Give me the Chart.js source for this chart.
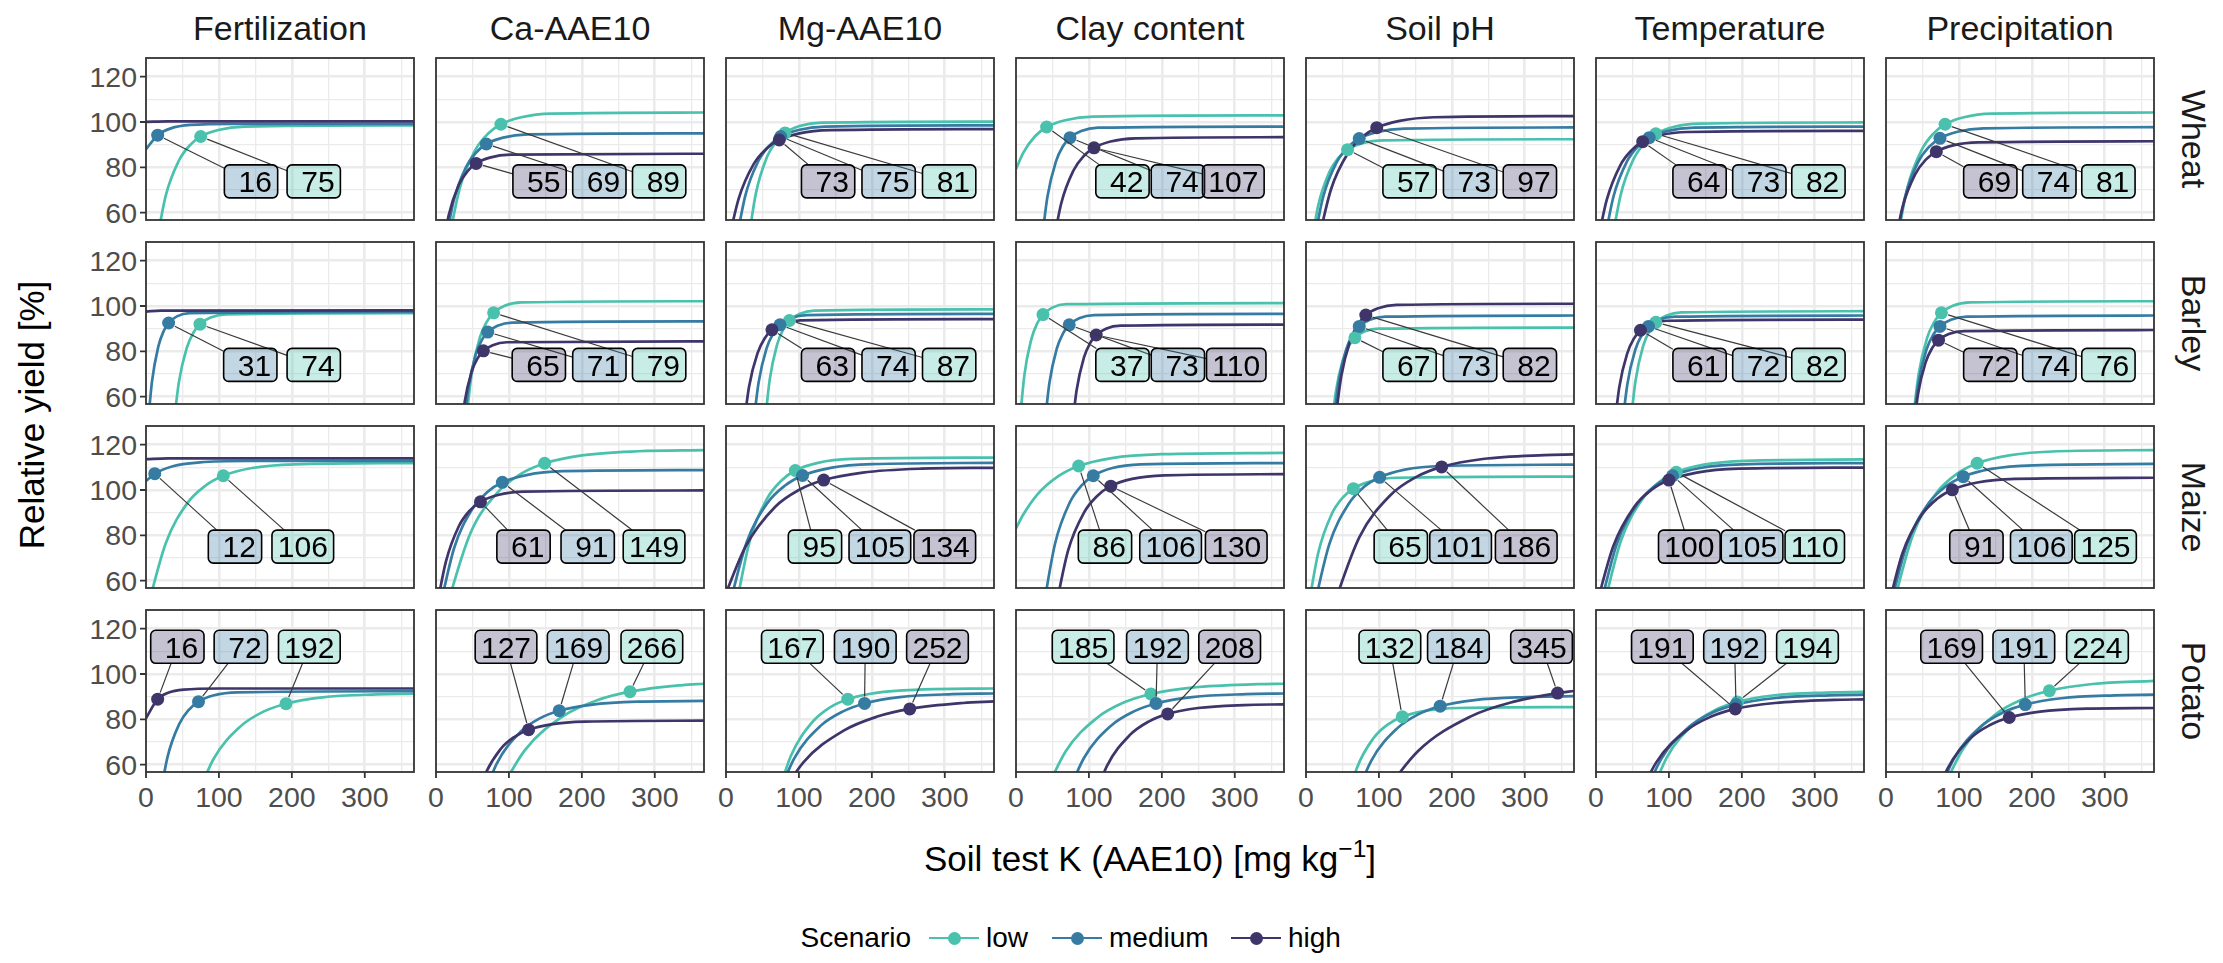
<!DOCTYPE html>
<html>
<head>
<meta charset="utf-8">
<title>Critical soil test K by scenario</title>
<script src="https://cdn.jsdelivr.net/npm/chart.js@4.4.1/dist/chart.umd.min.js"></script>
<style>
  html, body { margin: 0; padding: 0; background: #ffffff; }
  #fig { position: relative; width: 2223px; height: 963px; overflow: hidden;
         font-family: "Liberation Sans", Arial, Helvetica, sans-serif; }
  #fig canvas { position: absolute; }
  .txt { position: absolute; white-space: nowrap; line-height: 1; }
</style>
</head>
<body>
<div id="fig"></div>
<script>
// ---------------------------------------------------------------------------
// Categories and tick values
// ---------------------------------------------------------------------------
const factors = ["Fertilization", "Ca-AAE10", "Mg-AAE10", "Clay content", "Soil pH", "Temperature", "Precipitation"];
const crops = ["Wheat", "Barley", "Maize", "Potato"];
const scenarios = ["low", "medium", "high"];
const xTickLabels = [0, 100, 200, 300];
const yTickLabels = [60, 80, 100, 120];
const xGridValues = [50, 100, 150, 200, 250, 300, 350];
const yGridValues = [60, 70, 80, 90, 100, 110, 120];

// ---------------------------------------------------------------------------
// Response curves: [soil test K, relative yield] per factor (in the order above)
// ---------------------------------------------------------------------------
const wheatLow = [
  [[9,36.5],[27,67.4],[45,82.9],[60,89.7],[75,93.6],[99,96.5],[135,98.0],[367.5,98.5]],
  [[12,38.7],[33,71.3],[54,87.7],[71.5,94.9],[89,99.0],[117,102.1],[159,103.7],[367.5,104.2]],
  [[26,37.2],[41,68.5],[56,84.4],[68.5,91.3],[81,95.2],[101,98.2],[131,99.7],[367.5,100.2]],
  [[0,79.3],[10.3,86.6],[26.1,93.7],[42,97.8],[67.4,100.8],[105.5,102.4],[367.5,102.9]],
  [[1.8,34.3],[16.8,63.2],[31.9,77.8],[44.5,84.2],[57,87.8],[77,90.6],[107,91.9],[367.5,92.4]],
  [[16.2,37.0],[34.2,68.3],[52.1,84.0],[67,90.9],[82,94.8],[105.9,97.8],[141.8,99.3],[367.5,99.8]],
  [[10.4,38.7],[29.6,71.3],[48.9,87.7],[65,94.9],[81,99.0],[106.7,102.1],[145.2,103.7],[367.5,104.2]]
];
const wheatMedium = [
  [[0,88.0],[16,94.2],[34,97.2],[61,98.7],[120,99.2],[367.5,99.2]],
  [[7,35.2],[24,65.0],[41,80.0],[55,86.5],[69,90.3],[92,93.1],[126,94.5],[367.5,95.0]],
  [[8.2,36.5],[26.4,67.4],[44.6,82.9],[59.8,89.7],[75,93.6],[99.3,96.5],[135.7,98.0],[367.5,98.5]],
  [[31.5,36.4],[43.1,67.0],[54.7,82.5],[64.4,89.3],[74,93.1],[89.4,96.0],[112.6,97.5],[367.5,98.0]],
  [[4.8,36.2],[23.4,66.8],[42,82.2],[57.5,88.9],[73,92.7],[97.8,95.6],[135,97.1],[367.5,97.6]],
  [[5.5,36.4],[23.9,67.0],[42.3,82.5],[57.7,89.3],[73,93.1],[97.6,96.0],[134.4,97.5],[367.5,98.0]],
  [[8,36.2],[26,66.8],[44,82.3],[59,89.0],[74,92.8],[98,95.7],[134,97.2],[367.5,97.7]]
];
const wheatHigh = [
  [[0,100.1],[30,100.3],[367.5,100.3]],
  [[3,31.9],[17.4,58.8],[31.5,72.4],[43.3,78.3],[55,81.7],[73.8,84.3],[102,85.6],[367.5,86.0]],
  [[0,42.3],[17.5,66.3],[38.3,81.6],[55.7,88.3],[73,92.1],[100.8,95.0],[142.4,96.4],[367.5,96.9]],
  [[45,34.6],[61.8,63.8],[78.8,78.6],[92.9,85.0],[107,88.6],[129.6,91.4],[163.5,92.8],[367.5,93.3]],
  [[10.6,38.1],[34.2,70.2],[57.8,86.4],[77.4,93.5],[97,97.5],[128.4,100.5],[175.5,102.1],[367.5,102.6]],
  [[0,43.4],[14.8,65.7],[33.3,80.9],[48.6,87.5],[64,91.3],[88.6,94.2],[125.5,95.6],[367.5,96.1]],
  [[5.4,33.9],[22.8,62.6],[40.1,77.0],[54.6,83.4],[69,86.9],[92.1,89.7],[126.8,91.0],[367.5,91.5]]
];

const barleyLow = [
  [[34.1,35.9],[45,66.2],[55.9,81.5],[64.9,88.2],[74,92.0],[88.5,94.9],[110.3,96.3],[367.5,96.8]],
  [[37.4,37.9],[48.8,69.8],[60.1,86.0],[69.6,93.0],[79,97.0],[94.1,100.1],[116.8,101.6],[367.5,102.1]],
  [[49.7,36.5],[59.9,67.4],[70,82.9],[78.5,89.7],[87,93.6],[100.6,96.5],[120.9,98.0],[367.5,98.5]],
  [[0,28.8],[11.4,69.3],[21,85.3],[29,92.3],[37,96.2],[49.8,99.3],[69,100.8],[367.5,101.3]],
  [[31,33.6],[40.8,61.9],[50.6,76.2],[58.8,82.4],[67,86.0],[80.1,88.7],[99.8,90.0],[367.5,90.5]],
  [[43.6,36.2],[54.1,66.8],[64.6,82.3],[73.3,89.0],[82,92.8],[96,95.7],[116.9,97.2],[367.5,97.7]],
  [[33,37.9],[44.7,69.8],[56.5,86.0],[66.2,93.0],[76,97.0],[91.6,100.1],[115.1,101.6],[367.5,102.1]]
];
const barleyMedium = [
  [[0,37.8],[8.2,66.6],[16.8,82.0],[23.9,88.7],[31,92.5],[42.4,95.4],[59.5,96.9],[367.5,97.4]],
  [[34.4,34.6],[44.4,63.7],[54.4,78.5],[62.7,84.9],[71,88.5],[84.3,91.3],[104.3,92.7],[367.5,93.2]],
  [[33.5,35.8],[44.6,66.0],[55.6,81.3],[64.8,87.9],[74,91.7],[88.7,94.6],[110.8,96.0],[367.5,96.5]],
  [[35.6,35.8],[45.8,66.0],[56,81.3],[64.5,87.9],[73,91.7],[86.6,94.6],[107,96.0],[367.5,96.5]],
  [[33.5,35.5],[44.3,65.5],[55,80.7],[64,87.3],[73,91.0],[87.4,93.9],[108.9,95.3],[367.5,95.8]],
  [[32.1,35.5],[43,65.5],[53.9,80.7],[62.9,87.3],[72,91.0],[86.5,93.9],[108.3,95.3],[367.5,95.8]],
  [[33.1,35.5],[44.2,65.5],[55.4,80.7],[64.7,87.3],[74,91.0],[88.9,93.9],[111.2,95.3],[367.5,95.8]]
];
const barleyHigh = [
  [[0,97.5],[20,98.0],[367.5,98.1]],
  [[29.7,31.3],[39.3,57.7],[49,71.1],[57,76.9],[65,80.2],[77.8,82.7],[97.1,84.0],[367.5,84.4]],
  [[19.8,34.9],[31.6,64.4],[43.4,79.3],[53.2,85.8],[63,89.5],[78.7,92.3],[102.3,93.7],[367.5,94.2]],
  [[73,34.1],[83.1,62.8],[93.2,77.3],[101.6,83.6],[110,87.2],[123.4,90.0],[143.6,91.3],[367.5,91.8]],
  [[35.8,37.5],[48.4,69.1],[61,85.0],[71.5,92.0],[82,96.0],[98.8,99.0],[124,100.5],[367.5,101.0]],
  [[21.1,34.9],[32,64.3],[42.9,79.1],[51.9,85.6],[61,89.3],[75.5,92.1],[97.3,93.5],[367.5,94.0]],
  [[33.4,33.2],[43.9,61.1],[54.5,75.3],[63.2,81.4],[72,84.9],[86,87.6],[107.1,88.9],[367.5,89.4]]
];

const maizeLow = [
  [[0,45.4],[27.1,76.5],[56.7,94.2],[81.4,101.9],[106,106.3],[145.4,109.7],[204.6,111.3],[367.5,111.9]],
  [[0,31.8],[46.6,80.5],[85,99.1],[117,107.2],[149,111.8],[200.2,115.3],[277,117.1],[367.5,117.6]],
  [[9.9,42.4],[33.1,78.2],[56.3,96.2],[75.7,104.1],[95,108.6],[126,112.0],[172.4,113.7],[367.5,114.3]],
  [[0,83.1],[10,89.2],[29.2,98.0],[57.6,106.0],[86,110.6],[131.4,114.1],[199.6,115.8],[367.5,116.4]],
  [[0,42.0],[16.9,72.4],[35,89.2],[50,96.5],[65,100.6],[89,103.8],[125.1,105.4],[367.5,105.9]],
  [[5.8,42.1],[34.2,77.6],[62.7,95.6],[86.3,103.4],[110,107.8],[147.9,111.2],[204.7,112.9],[367.5,113.5]],
  [[0,36.6],[37.2,80.5],[70.2,99.1],[97.6,107.2],[125,111.8],[168.9,115.3],[234.7,117.1],[367.5,117.6]]
];
const maizeMedium = [
  [[0,104.0],[12,107.2],[36.8,110.5],[74,112.2],[140,112.8],[367.5,112.8]],
  [[0,40.0],[24.9,74.4],[49.7,91.6],[70.4,99.1],[91,103.4],[124,106.6],[173.6,108.3],[367.5,108.8]],
  [[0,42.9],[28,76.6],[56.9,94.3],[81,102.0],[105,106.4],[143.5,109.8],[201.2,111.4],[367.5,112.0]],
  [[34.1,41.5],[53.7,76.5],[73.3,94.2],[89.7,101.9],[106,106.3],[132.2,109.7],[171.4,111.3],[367.5,111.9]],
  [[6.1,41.3],[32,76.1],[57.9,93.6],[79.4,101.3],[101,105.6],[135.5,109.0],[187.3,110.6],[367.5,111.2]],
  [[0,40.9],[28.8,76.5],[57.4,94.2],[81.2,101.9],[105,106.3],[143.1,109.7],[200.2,111.3],[367.5,111.9]],
  [[0,41.3],[29,76.3],[57.9,93.9],[81.9,101.6],[106,105.9],[144.5,109.3],[202.3,110.9],[367.5,111.5]]
];
const maizeHigh = [
  [[0,113.6],[30,114.0],[367.5,114.0]],
  [[0,46.7],[13.5,68.3],[31.3,84.0],[46.2,90.9],[61,94.8],[84.8,97.8],[120.4,99.3],[367.5,99.8]],
  [[0,54.6],[27.1,75.2],[67.2,92.5],[100.6,100.1],[134,104.4],[187.4,107.7],[267.6,109.4],[367.5,109.8]],
  [[49.4,39.7],[71.4,73.2],[93.4,90.1],[111.7,97.5],[130,101.7],[159.3,104.9],[203.3,106.5],[367.5,107.0]],
  [[31.2,43.0],[73.4,79.3],[115.7,97.7],[150.8,105.7],[186,110.2],[242.3,113.7],[326.7,115.4],[367.5,115.7]],
  [[0,48.5],[23.7,75.2],[52.3,92.5],[76.2,100.1],[100,104.4],[138.2,107.7],[195.4,109.4],[367.5,109.9]],
  [[0,44.3],[22.6,72.1],[48.3,88.7],[69.6,96.0],[91,100.1],[125.2,103.3],[176.5,104.9],[367.5,105.4]]
];

const potatoLow = [
  [[55.6,33.9],[92.8,62.6],[130,77.0],[161,83.4],[192,86.9],[241.6,89.7],[316,91.0],[367.5,91.3]],
  [[67.6,36.0],[121.7,66.3],[175.8,81.7],[220.9,88.4],[266,92.2],[338.2,95.1],[367.5,95.7]],
  [[60,34.7],[89.2,64.0],[118.4,78.8],[142.7,85.3],[167,88.9],[205.9,91.7],[264.3,93.1],[367.5,93.6]],
  [[24,35.6],[67.8,65.7],[111.8,80.8],[148.4,87.5],[185,91.2],[243.6,94.1],[331.5,95.5],[367.5,95.7]],
  [[46.3,31.7],[69.7,58.4],[93.1,71.9],[112.5,77.8],[132,81.1],[163.2,83.7],[209.9,85.0],[367.5,85.4]],
  [[60.6,34.2],[97,63.1],[133.4,77.7],[163.7,84.1],[194,87.7],[242.5,90.5],[315.3,91.8],[367.5,92.1]],
  [[60.6,36.2],[105.2,66.7],[149.8,82.1],[186.9,88.8],[224,92.6],[283.4,95.6],[367.5,97.0]]
];
const potatoMedium = [
  [[13.4,34.3],[29.4,63.2],[45.4,77.8],[58.7,84.2],[72,87.8],[93.3,90.6],[125.3,91.9],[367.5,92.4]],
  [[51,32.7],[83.1,60.3],[115.3,74.3],[142.2,80.4],[169,83.8],[212,86.4],[276.4,87.8],[367.5,88.1]],
  [[57.1,34.0],[93.4,62.7],[129.6,77.1],[159.8,83.4],[190,87.0],[238.3,89.8],[310.8,91.1],[367.5,91.4]],
  [[55.6,34.0],[92.8,62.7],[130,77.1],[161,83.4],[192,87.0],[241.6,89.8],[316,91.1],[367.5,91.4]],
  [[54.2,33.5],[89.6,61.8],[125,76.0],[154.5,82.3],[184,85.8],[231.2,88.5],[302,89.8],[367.5,90.2]],
  [[50.5,33.8],[89.1,62.3],[127.7,76.7],[159.9,83.0],[192,86.5],[243.4,89.3],[320.6,90.6],[367.5,90.9]],
  [[55.7,33.8],[92.6,62.3],[129.5,76.7],[160.3,83.0],[191,86.5],[240.2,89.3],[314,90.6],[367.5,90.9]]
];
const potatoHigh = [
  [[0,80.5],[16,88.9],[30.3,91.7],[51.8,93.1],[100,93.6],[367.5,93.6]],
  [[42.6,29.5],[65.6,54.3],[88.7,66.9],[107.8,72.3],[127,75.4],[157.7,77.8],[203.7,79.0],[367.5,79.4]],
  [[51,33.0],[105.8,60.9],[160.7,74.9],[206.3,81.1],[252,84.6],[325.1,87.2],[367.5,87.9]],
  [[93.3,32.2],[124.6,59.3],[155.9,73.0],[181.9,79.0],[208,82.4],[249.7,85.0],[312.3,86.3],[367.5,86.6]],
  [[81.6,35.8],[153.4,65.9],[225.3,81.2],[285.1,87.8],[345,91.6],[367.5,92.5]],
  [[41.7,33.0],[82.4,60.9],[123.2,74.9],[157.1,81.1],[191,84.6],[245.3,87.2],[326.7,88.6],[367.5,88.8]],
  [[52.6,31.6],[84.4,58.2],[116.1,71.7],[142.6,77.5],[169,80.8],[211.3,83.4],[274.8,84.7],[367.5,85.0]]
];

// Critical soil test K per factor: [low, medium, high] (null = no critical value)
const wheatCrit  = [[75,16,null],[89,69,55],[81,75,73],[42,74,107],[57,73,97],[82,73,64],[81,74,69]];
const barleyCrit = [[74,31,null],[79,71,65],[87,74,63],[37,73,110],[67,73,82],[82,72,61],[76,74,72]];
const maizeCrit  = [[106,12,null],[149,91,61],[95,105,134],[86,106,130],[65,101,186],[110,105,100],[125,106,91]];
const potatoCrit = [[192,72,16],[266,169,127],[167,190,252],[185,192,208],[132,184,345],[194,192,191],[224,191,169]];

// ---------------------------------------------------------------------------
// Label placement (x centres in data units, sorted by value) and row heights
// ---------------------------------------------------------------------------
const wheatLabelX  = [[144,230],[142,224,306],[140,223,306],[146,222,298],[142,225,307],[142,224,305],[143,224,305]];
const barleyLabelX = [[143,230],[141,224,306],[140,223,306],[146,222,302],[142,225,307],[142,224,305],[143,224,305]];
const maizeLabelX  = [[122,215],[120,208,299],[122,211,300],[122,212,302],[130,212,302],[128,214,300],[124,213,301]];
const potatoLabelX = [[43,130,224],[96,195,296],[91,191,290],[92,194,293],[115,209,323],[91,190,290],[90,189,290]];
const labelRowY = [73.8, 74, 75, 112];

// ---------------------------------------------------------------------------
// Styling and layout
// ---------------------------------------------------------------------------
const COLORS = { low: "#49C1AD", medium: "#357BA2", high: "#3E356B" };
const FONT = '"Liberation Sans", Arial, Helvetica, sans-serif';
const X_RANGE = [0, 367.5];
const Y_RANGE = [56.75, 128.25];
const PANEL_W = 268, PANEL_H = 162, PAD = 8;
const colLeft = c => 146 + 290 * c;
const rowTop = r => 58 + 184 * r;

const curveSets = [
  [wheatLow, wheatMedium, wheatHigh],
  [barleyLow, barleyMedium, barleyHigh],
  [maizeLow, maizeMedium, maizeHigh],
  [potatoLow, potatoMedium, potatoHigh]
];
const critSets = [wheatCrit, barleyCrit, maizeCrit, potatoCrit];
const labelXSets = [wheatLabelX, barleyLabelX, maizeLabelX, potatoLabelX];

function rgba(hex, a) {
  const n = parseInt(hex.slice(1), 16);
  return `rgba(${n >> 16},${(n >> 8) & 255},${n & 255},${a})`;
}

const fig = document.getElementById("fig");
function addText(str, x, y, o) {
  const d = document.createElement("div");
  d.className = "txt";
  d.innerHTML = str;
  d.style.left = x + "px";
  d.style.top = y + "px";
  d.style.fontSize = (o.size || 28) + "px";
  d.style.color = o.color || "#000";
  const ax = o.anchor === "right" ? "-100%" : o.anchor === "left" ? "0" : "-50%";
  d.style.transform = `translate(${ax},-50%)` + (o.rotate ? ` rotate(${o.rotate}deg)` : "");
  if (o.rotate) d.style.transformOrigin = (o.anchor === "left" ? "0" : "50%") + " 50%";
  fig.appendChild(d);
  return d;
}

// Repelled value labels, segments, panel frame and outer tick marks
const panelDecor = {
  id: "panelDecor",
  afterDatasetsDraw(chart, args, opts) {
    const { ctx } = chart;
    const xs = chart.scales.x, ys = chart.scales.y;
    ctx.save();
    ctx.font = `${opts.fontSize}px ${FONT}`;
    const boxes = opts.items.map(it => {
      const text = String(it.value).padStart(3, " ");
      const w = ctx.measureText(text).width + 2 * opts.padX;
      return {
        text, w, h: opts.boxH, fill: rgba(it.color, 0.3),
        cx: xs.getPixelForValue(it.lx), cy: ys.getPixelForValue(opts.ly),
        px: xs.getPixelForValue(it.value), py: ys.getPixelForValue(it.pointY)
      };
    });
    ctx.strokeStyle = "#3a3a3a";
    ctx.lineWidth = 1.2;
    boxes.forEach(b => {
      const dx = b.cx - b.px, dy = b.cy - b.py;
      const tx = dx !== 0 ? 1 - (b.w / 2) / Math.abs(dx) : -Infinity;
      const ty = dy !== 0 ? 1 - (b.h / 2) / Math.abs(dy) : -Infinity;
      const t = Math.max(tx, ty);
      if (t <= 0) return;
      const len = Math.hypot(dx, dy);
      const t0 = Math.min(opts.pointGap / len, t);
      ctx.beginPath();
      ctx.moveTo(b.px + dx * t0, b.py + dy * t0);
      ctx.lineTo(b.px + dx * t, b.py + dy * t);
      ctx.stroke();
    });
    boxes.forEach(b => {
      const x0 = b.cx - b.w / 2, y0 = b.cy - b.h / 2;
      ctx.beginPath();
      if (ctx.roundRect) ctx.roundRect(x0, y0, b.w, b.h, opts.radius);
      else ctx.rect(x0, y0, b.w, b.h);
      ctx.fillStyle = b.fill;
      ctx.fill();
      ctx.lineWidth = opts.borderWidth;
      ctx.strokeStyle = "#000";
      ctx.stroke();
      ctx.fillStyle = "#000";
      ctx.textAlign = "center";
      ctx.textBaseline = "alphabetic";
      ctx.fillText(b.text, b.cx, b.cy + opts.fontSize * 0.716 / 2);
    });
    ctx.restore();
  },
  afterDraw(chart, args, opts) {
    const { ctx, chartArea: a } = chart;
    ctx.save();
    ctx.strokeStyle = "#333333";
    ctx.lineWidth = 1.8;
    ctx.strokeRect(a.left, a.top, a.right - a.left, a.bottom - a.top);
    ctx.beginPath();
    if (opts.yTicks) {
      yTickLabels.forEach(v => {
        const p = chart.scales.y.getPixelForValue(v);
        ctx.moveTo(a.left - 6, p); ctx.lineTo(a.left, p);
      });
    }
    if (opts.xTicks) {
      xTickLabels.forEach(v => {
        const p = chart.scales.x.getPixelForValue(v);
        ctx.moveTo(p, a.bottom); ctx.lineTo(p, a.bottom + 6);
      });
    }
    ctx.stroke();
    ctx.restore();
  }
};

function gridScale(range, values, majorStep) {
  return {
    type: "linear", min: range[0], max: range[1], bounds: "data",
    afterBuildTicks: s => { s.ticks = values.map(value => ({ value })); },
    ticks: { display: false },
    border: { display: false },
    grid: {
      drawTicks: false,
      color: "#EBEBEB",
      lineWidth: c => (c.tick && c.tick.value % majorStep === 0 ? 2.6 : 1.3)
    }
  };
}

crops.forEach((crop, r) => {
  factors.forEach((factor, c) => {
    const datasets = [];
    scenarios.forEach((s, k) => {
      datasets.push({
        type: "line", label: s,
        data: curveSets[r][k][c].map(([x, y]) => ({ x, y })),
        borderColor: COLORS[s], borderWidth: 2.7, pointRadius: 0,
        cubicInterpolationMode: "monotone", fill: false, clip: 0, order: 10 + (2 - k)
      });
    });
    const items = [];
    scenarios.forEach((s, k) => {
      const xc = critSets[r][c][k];
      if (xc === null) return;
      const yc = curveSets[r][k][c].find(p => p[0] === xc)[1];
      datasets.push({
        type: "line", label: s + " critical", showLine: false,
        data: [{ x: xc, y: yc }],
        pointRadius: 6.5, pointBackgroundColor: COLORS[s], pointBorderWidth: 0,
        clip: 0, order: 2 - k
      });
      items.push({ value: xc, pointY: yc, color: COLORS[s] });
    });
    items.sort((a, b) => a.value - b.value);
    items.forEach((it, i) => { it.lx = labelXSets[r][c][i]; });

    const canvas = document.createElement("canvas");
    canvas.width = PANEL_W + 2 * PAD;
    canvas.height = PANEL_H + 2 * PAD;
    canvas.style.width = canvas.width + "px";
    canvas.style.height = canvas.height + "px";
    canvas.style.left = (colLeft(c) - PAD) + "px";
    canvas.style.top = (rowTop(r) - PAD) + "px";
    fig.appendChild(canvas);

    const chart = new Chart(canvas, {
      type: "line",
      data: { datasets },
      plugins: [panelDecor],
      options: {
        responsive: false, animation: false, devicePixelRatio: 1, events: [],
        layout: { padding: PAD },
        scales: { x: gridScale(X_RANGE, xGridValues, 100), y: gridScale(Y_RANGE, yGridValues, 20) },
        plugins: {
          legend: { display: false }, tooltip: { enabled: false },
          panelDecor: {
            items, ly: labelRowY[r], fontSize: 30, padX: 5.8, boxH: 33, radius: 5,
            borderWidth: 1.6, pointGap: 7, yTicks: c === 0, xTicks: r === crops.length - 1
          }
        }
      }
    });

    // keep the plotting area on the panel grid
    const ca = chart.chartArea;
    const offX = colLeft(c) - ca.left, offY = rowTop(r) - ca.top;
    canvas.style.left = offX + "px";
    canvas.style.top = offY + "px";

    if (c === 0) {
      yTickLabels.forEach(v => {
        addText(String(v), colLeft(0) - 9, offY + chart.scales.y.getPixelForValue(v),
          { size: 28.5, color: "#4D4D4D", anchor: "right" });
      });
    }
    if (r === crops.length - 1) {
      xTickLabels.forEach(v => {
        addText(String(v), offX + chart.scales.x.getPixelForValue(v), 797,
          { size: 28.5, color: "#4D4D4D" });
      });
    }
  });
});

// Facet strips
factors.forEach((f, c) => addText(f, colLeft(c) + PANEL_W / 2, 28, { size: 34, color: "#1A1A1A" }));
crops.forEach((cr, r) => addText(cr, 2194, rowTop(r) + PANEL_H / 2, { size: 34, color: "#1A1A1A", rotate: 90 }));

// Axis titles
addText("Relative yield [%]", 31, (rowTop(0) + rowTop(3) + PANEL_H) / 2, { size: 35, rotate: -90 });
addText('Soil test K (AAE10) [mg kg<sup style="font-size:70%;vertical-align:0.55em;line-height:0">\u22121</sup>]',
  (colLeft(0) + colLeft(6) + PANEL_W) / 2, 858, { size: 35 });

// Legend
addText("Scenario", 911, 938, { size: 28, anchor: "right" });
const legendKeyX = [929, 1052, 1231];
scenarios.forEach((s, k) => {
  const kx = legendKeyX[k];
  const line = document.createElement("div");
  line.style.cssText = `position:absolute;left:${kx}px;top:${938 - 1.35}px;width:50px;height:2.7px;background:${COLORS[s]}`;
  fig.appendChild(line);
  const dot = document.createElement("div");
  dot.style.cssText = `position:absolute;left:${kx + 25 - 6.5}px;top:${938 - 6.5}px;width:13px;height:13px;border-radius:50%;background:${COLORS[s]}`;
  fig.appendChild(dot);
  addText(s, kx + 57, 938, { size: 28, anchor: "left" });
});
</script>
</body>
</html>
